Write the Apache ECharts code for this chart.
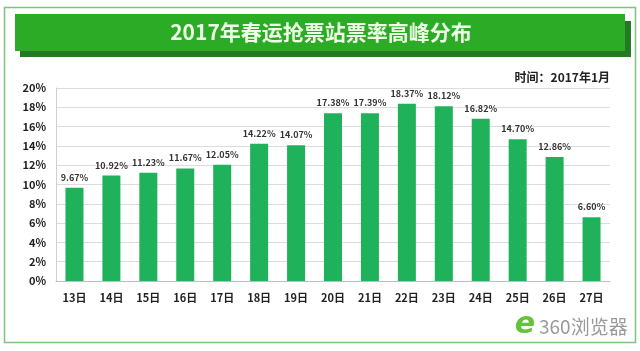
<!DOCTYPE html>
<html>
<head>
<meta charset="utf-8">
<script src="https://cdn.jsdelivr.net/npm/echarts@6/dist/echarts.min.js"></script>
<style>
html, body { margin: 0; padding: 0; background: #fff; }
#chart-container { width: 640px; height: 351px; }
</style>
</head>
<body>
<div id="chart-container"></div>
<script>
var days = ['13日', '14日', '15日', '16日', '17日', '18日', '19日', '20日', '21日', '22日', '23日', '24日', '25日', '26日', '27日'];
var rates = [9.67, 10.92, 11.23, 11.67, 12.05, 14.22, 14.07, 17.38, 17.39, 18.37, 18.12, 16.82, 14.70, 12.86, 6.60];

var dom = document.getElementById('chart-container');
var myChart = echarts.init(dom, null, { renderer: 'canvas' });

var font = '"Noto Sans CJK SC", "DejaVu Sans", sans-serif';

var option = {
    animation: false,
    textStyle: { fontFamily: font },
    graphic: [
        // outer frame
        {
            type: 'rect',
            shape: { x: 4.5, y: 7.5, width: 631, height: 335 },
            style: { fill: 'none', stroke: '#7cc47c', lineWidth: 1.5 }
        },
        // banner shadow
        {
            type: 'rect',
            shape: { x: 20, y: 21, width: 611, height: 36 },
            style: { fill: '#237a22' }
        },
        // banner
        {
            type: 'rect',
            shape: { x: 15, y: 14, width: 610, height: 37 },
            style: { fill: '#2cab27' }
        },
        {
            type: 'text',
            x: 321, y: 32,
            style: {
                text: '2017年春运抢票站票率高峰分布',
                fill: '#eefee6', font: 'bold 21px ' + font,
                align: 'center', verticalAlign: 'middle'
            }
        },
        {
            type: 'text',
            x: 610, y: 77,
            style: {
                text: '时间：2017年1月',
                fill: '#222', font: 'bold 12px ' + font,
                align: 'right', verticalAlign: 'middle'
            }
        },
        // watermark
        {
            type: 'text',
            x: 525, y: 325,
            style: {
                text: 'e', fill: '#66c23a', font: 'italic bold 30px "DejaVu Sans", sans-serif',
                align: 'center', verticalAlign: 'middle'
            }
        },
        {
            type: 'text',
            x: 539, y: 327,
            style: {
                text: '360浏览器', fill: '#9a9a9a', font: '19px ' + font,
                align: 'left', verticalAlign: 'middle'
            }
        }
    ],
    grid: { left: 56, right: 30, top: 88, bottom: 70 },
    xAxis: {
        type: 'category',
        data: days,
        axisLine: { lineStyle: { color: '#bfbfbf' } },
        axisTick: { show: false },
        axisLabel: { color: '#222', fontWeight: 'bold', fontSize: 11, margin: 11 }
    },
    yAxis: {
        type: 'value',
        min: 0, max: 20, interval: 2,
        axisLine: { show: true, lineStyle: { color: '#d0d0d0' } },
        axisTick: { show: false },
        splitLine: { lineStyle: { color: '#dcdcdc' } },
        axisLabel: { color: '#222', fontWeight: 'bold', fontSize: 11, margin: 10, formatter: '{value}%' }
    },
    series: [{
        type: 'bar',
        data: rates,
        barWidth: 18,
        itemStyle: { color: '#1fb25a' },
        label: {
            show: true,
            position: 'top',
            distance: 6,
            color: '#333',
            fontSize: 9,
            fontWeight: 'bold',
            formatter: function (p) { return p.value.toFixed(2) + '%'; }
        }
    }]
};

myChart.setOption(option);
window.addEventListener('resize', myChart.resize);
</script>
</body>
</html>
